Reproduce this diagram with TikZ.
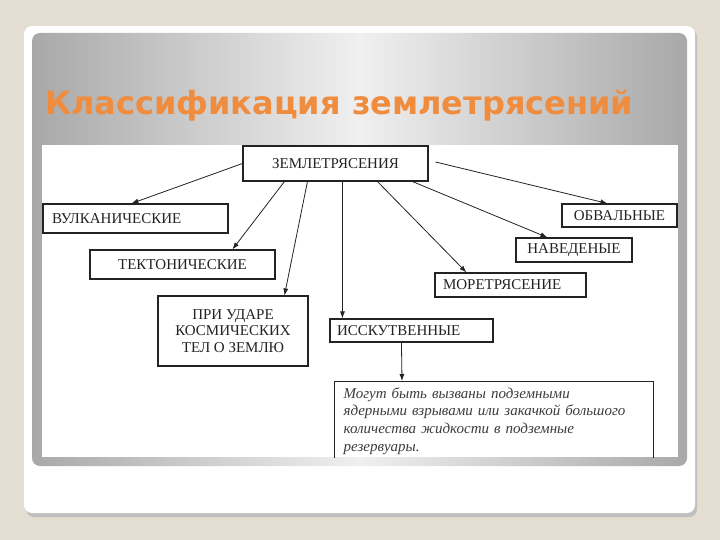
\documentclass[tikz,border=0pt]{standalone}
\usepackage{fontspec}
\setmainfont{Liberation Serif}
\newfontfamily\titlefont{DejaVu Sans}
\usetikzlibrary{arrows.meta,calc}
\definecolor{bgbeige}{RGB}{227,221,210}
\definecolor{ttlorange}{RGB}{240,140,62}
\definecolor{inkc}{RGB}{35,35,35}
\definecolor{txtc}{RGB}{60,60,60}
\begin{document}
\begin{tikzpicture}[x=1pt,y=-1pt,
  box/.style={draw=inkc,line width=1.1pt,inner sep=0pt,font=\fontsize{15}{17}\selectfont,text=inkc},
  conn/.style={draw=inkc,line width=0.8pt,-{Latex[length=7pt,width=5pt]}}]
\useasboundingbox (0,0) rectangle (720,540);
\fill[bgbeige] (0,0) rectangle (720,540);
% card with shadow
\fill[gray!50,rounded corners=8pt] (26,29) rectangle (697,517);
\fill[white,rounded corners=8pt] (24,26) rectangle (695,513);
% gray panel
\shade[rounded corners=8pt,left color=gray!68,right color=gray!68,middle color=gray!12] (32,33) rectangle (687,466);
% white picture area
\fill[white] (42,145) rectangle (678,457);
% title
\node[anchor=base west,font=\titlefont\bfseries\fontsize{32}{36}\selectfont,text=ttlorange,inner sep=0pt] (title) at (45,115) {Классификация землетрясений};
\begin{scope}
\clip (42,145) rectangle (678,457);
\node[box,minimum width=185pt,minimum height=35pt] (zem) at (335.5,163.5) {ЗЕМЛЕТРЯСЕНИЯ};
\node[box,minimum height=29pt,inner xsep=9pt,text width=167pt,align=left] (vul) at (135.5,218.5) {ВУЛКАНИЧЕСКИЕ};
\node[box,minimum width=185pt,minimum height=29pt] (tek) at (182.5,264.5) {ТЕКТОНИЧЕСКИЕ};
\node[box,minimum width=150pt,minimum height=70pt,align=center,font=\fontsize{15}{16.5}\selectfont] (pri) at (233,331) {ПРИ УДАРЕ\\КОСМИЧЕСКИХ\\ТЕЛ О ЗЕМЛЮ};
\node[box,minimum height=23pt,inner xsep=7pt,text width=149pt,align=left] (isk) at (411.5,330.5) {ИССКУТВЕННЫЕ};
\node[box,minimum height=24pt,inner xsep=8pt,text width=135pt,align=left] (mor) at (510.5,285) {МОРЕТРЯСЕНИЕ};
\node[box,minimum width=116pt,minimum height=24pt] (nav) at (574,250) {НАВЕДЕНЫЕ};
\node[box,minimum width=115pt,minimum height=23pt] (obv) at (619.5,215.5) {ОБВАЛЬНЫЕ};
\node[draw=inkc,line width=1.1pt,anchor=north west,inner xsep=9pt,inner ysep=6pt,text width=301pt,align=left,
  font=\itshape\fontsize{15}{17.7}\selectfont,text=txtc] (txt) at (334,381)
  {Могут быть вызваны подземными\\ядерными взрывами или закачкой большого\\количества жидкости в подземные\\резервуары.\\[2pt]};
% connectors
\draw[conn] (zem.west) -- ([xshift=89pt]vul.north west);
\draw[conn] ([xshift=42pt]zem.south west) -- ([xshift=143pt]tek.north west);
\draw[conn] ([xshift=65pt]zem.south west) -- ([xshift=127pt]pri.north west);
\draw[conn] ([xshift=100pt]zem.south west) -- ([xshift=13pt]isk.north west);
\draw[conn] ([xshift=135pt]zem.south west) -- ([xshift=32pt]mor.north west);
\draw[conn] ([xshift=170pt]zem.south west) -- ([xshift=32pt]nav.north west);
\coordinate (zs) at ([xshift=7pt,yshift=1.5pt]zem.east);
\draw[conn] (zs) -- ([xshift=46pt]obv.north west);
\draw[conn] ([xshift=72pt]isk.south west) -- ([xshift=68pt]txt.north west);
\end{scope}
\end{tikzpicture}
\end{document}
